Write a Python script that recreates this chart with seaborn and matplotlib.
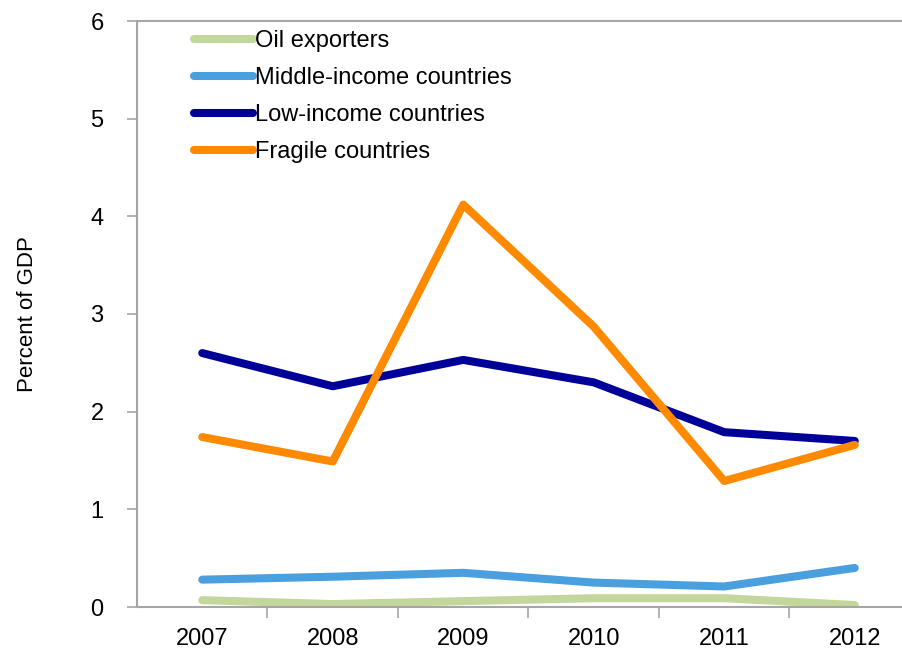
import matplotlib
matplotlib.use("Agg")
import matplotlib.pyplot as plt
import seaborn as sns
import pandas as pd

years = ["2007", "2008", "2009", "2010", "2011", "2012"]
oil_exporters = [0.07, 0.03, 0.06, 0.09, 0.09, 0.02]
middle_income = [0.28, 0.31, 0.35, 0.25, 0.21, 0.40]
low_income = [2.60, 2.26, 2.53, 2.30, 1.79, 1.70]
fragile = [1.74, 1.49, 4.12, 2.87, 1.29, 1.66]

series_names = ["Oil exporters", "Middle-income countries", "Low-income countries", "Fragile countries"]
series_values = [oil_exporters, middle_income, low_income, fragile]
colors = ["#C3D69B", "#4A9FDE", "#000099", "#FF8A00"]

rows = []
for name, vals in zip(series_names, series_values):
    for i, v in enumerate(vals):
        rows.append({"idx": i, "value": v, "series": name})
df = pd.DataFrame(rows)

sns.set_theme(style="white")
plt.rcParams["font.family"] = ["Liberation Sans", "DejaVu Sans"]
plt.rcParams["text.color"] = "black"
plt.rcParams["axes.labelcolor"] = "black"
plt.rcParams["xtick.color"] = "black"
plt.rcParams["ytick.color"] = "black"

fig = plt.figure(figsize=(9.03, 6.52), dpi=100)
ax = fig.add_axes([137/903, 45/652, 783/903, 586/652])

lw = 5.8
sns.lineplot(data=df, x="idx", y="value", hue="series", hue_order=series_names,
             palette=colors, linewidth=lw, ax=ax, legend=True,
             solid_capstyle="round", solid_joinstyle="round")

ax.set_xlim(-0.5, 5.5)
ax.set_ylim(0, 6)
ax.set_yticks(range(0, 7))
ax.set_yticklabels([str(i) for i in range(0, 7)])
ax.set_xticks(range(6))
ax.set_xticklabels(years)
ax.set_xticks([i - 0.5 for i in range(1, 7)], minor=True)
ax.set_xlabel("")
ax.set_ylabel("Percent of GDP", fontsize=16, labelpad=38, color="black")

for s in ["left", "bottom", "top"]:
    ax.spines[s].set_color("#A6A6A6")
    ax.spines[s].set_linewidth(1.5)
ax.spines["right"].set_visible(False)

ax.tick_params(axis="y", which="major", direction="out", length=7, width=1.2,
               color="#A6A6A6", labelcolor="black", labelsize=17, pad=17, left=True)
ax.tick_params(axis="x", which="major", length=0, labelsize=17, pad=15,
               labelcolor="black", bottom=True)
ax.tick_params(axis="x", which="minor", direction="out", length=8, width=1.2,
               color="#A6A6A6", bottom=True)

handles, labels = ax.get_legend_handles_labels()
for h in handles:
    h.set_linewidth(lw)
    h.set_solid_capstyle("round")
leg = ax.legend(handles, labels, loc="upper left",
                bbox_to_anchor=(194/903, 1 - 30/652), bbox_transform=fig.transFigure,
                frameon=False, fontsize=17, handlelength=2.5, handletextpad=0.1,
                labelspacing=0.64, borderpad=0, borderaxespad=0)
for t in leg.get_texts():
    t.set_color("black")

fig.savefig("out.png", dpi=100)
